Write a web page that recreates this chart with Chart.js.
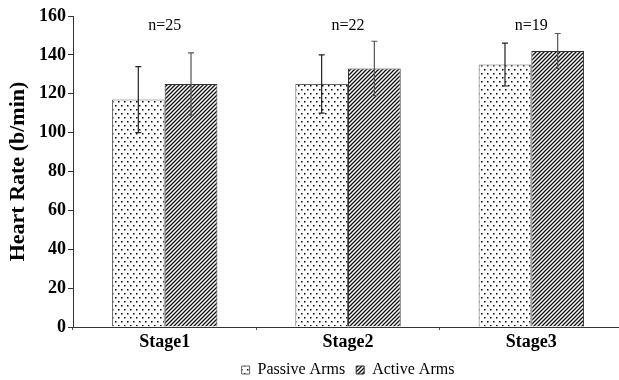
<!DOCTYPE html>
<html>
<head>
<meta charset="utf-8">
<script src="https://cdn.jsdelivr.net/npm/chart.js@4/dist/chart.umd.min.js"></script>
<style>
  html, body { margin: 0; padding: 0; background: #fff; overflow: hidden; }
  #wrap { width: 619px; height: 380px; overflow: hidden; }
</style>
</head>
<body>
<div id="wrap"><canvas id="hr" width="625" height="390"></canvas></div>
<script>
// heart rate by stage, mean +/- sd
const stages = ['Stage1', 'Stage2', 'Stage3'];
const passiveArms = [117, 125, 135];
const activeArms = [125, 133, 142];
const passiveErr = [17, 15, 11];
const activeErr = [16, 14, 9];
const nLabels = ['n=25', 'n=22', 'n=19'];
const yTicks = [0, 20, 40, 60, 80, 100, 120, 140, 160];

const SERIF = "'Liberation Serif', 'Times New Roman', serif";

function dotPattern() {
  const c = document.createElement('canvas');
  c.width = 6; c.height = 8;
  const g = c.getContext('2d');
  g.fillStyle = '#fff';
  g.fillRect(0, 0, 6, 8);
  g.fillStyle = '#000';
  g.fillRect(1, 1, 1.5, 1.5);
  g.fillRect(4, 5, 1.5, 1.5);
  return g.createPattern(c, 'repeat');
}

function hatchPattern() {
  const c = document.createElement('canvas');
  c.width = 4; c.height = 4;
  const g = c.getContext('2d');
  g.fillStyle = '#fff';
  g.fillRect(0, 0, 4, 4);
  g.strokeStyle = '#111';
  g.lineWidth = 1.3;
  g.beginPath();
  g.moveTo(-1, 5); g.lineTo(5, -1);
  g.moveTo(-1, 1); g.lineTo(1, -1);
  g.moveTo(3, 5); g.lineTo(5, 3);
  g.stroke();
  return g.createPattern(c, 'repeat');
}

const errorBars = {
  id: 'errorBars',
  afterDatasetsDraw(chart) {
    const ctx = chart.ctx;
    const y = chart.scales.y;
    const errs = [passiveErr, activeErr];
    const cols = ['#222', '#555'];
    ctx.save();
    chart.data.datasets.forEach((ds, di) => {
      const meta = chart.getDatasetMeta(di);
      meta.data.forEach((bar, i) => {
        const v = ds.data[i];
        const top = y.getPixelForValue(v + errs[di][i]);
        const bot = y.getPixelForValue(v - errs[di][i]);
        ctx.strokeStyle = cols[di];
        ctx.lineWidth = 1.2;
        ctx.beginPath();
        ctx.moveTo(bar.x, top); ctx.lineTo(bar.x, bot);
        ctx.moveTo(bar.x - 3, top); ctx.lineTo(bar.x + 3, top);
        ctx.moveTo(bar.x - 3, bot); ctx.lineTo(bar.x + 3, bot);
        ctx.stroke();
      });
    });
    // n= labels over each stage
    ctx.fillStyle = '#000';
    ctx.font = '16px ' + SERIF;
    ctx.textAlign = 'center';
    ctx.textBaseline = 'middle';
    nLabels.forEach((t, i) => {
      ctx.fillText(t, chart.scales.x.getPixelForValue(i), y.getPixelForValue(155));
    });
    ctx.restore();
  }
};

new Chart(document.getElementById('hr'), {
  type: 'bar',
  data: {
    labels: stages,
    datasets: [
      {
        label: 'Passive Arms',
        data: passiveArms,
        backgroundColor: dotPattern(),
        borderColor: '#666',
        borderWidth: 1,
        categoryPercentage: 0.575,
        barPercentage: 1.0,
      },
      {
        label: 'Active Arms',
        data: activeArms,
        backgroundColor: hatchPattern(),
        borderColor: '#333',
        borderWidth: 1,
        categoryPercentage: 0.575,
        barPercentage: 1.0,
      }
    ]
  },
  options: {
    responsive: false,
    animation: false,
    layout: { padding: { top: 16, left: 0, right: 2, bottom: 2 } },
    plugins: {
      legend: {
        position: 'bottom',
        fullSize: false,
        labels: {
          color: '#000',
          font: { family: SERIF, size: 16 },
          boxWidth: 8,
          boxHeight: 8,
          padding: 11,
        }
      },
      tooltip: { enabled: false },
    },
    scales: {
      x: {
        grid: { display: true, drawOnChartArea: false, tickLength: 3, color: '#555' },
        border: { color: '#333', width: 1 },
        ticks: { color: '#000', font: { family: SERIF, size: 18, weight: 'bold' }, padding: 2 },
        afterFit: s => { s.height = 24; },
      },
      y: {
        min: 0,
        max: 160,
        afterBuildTicks: s => { s.ticks = yTicks.map(v => ({ value: v })); },
        grid: { display: true, drawOnChartArea: false, tickLength: 5, color: '#333' },
        border: { color: '#333', width: 1 },
        ticks: { color: '#000', font: { family: SERIF, size: 18, weight: 'bold' }, padding: 2 },
        title: {
          display: true,
          text: 'Heart Rate (b/min)',
          color: '#000',
          font: { family: SERIF, size: 22, weight: 'bold' },
          padding: { top: 5, bottom: 4 },
        },
        afterFit: s => { s.width = 73; },
      }
    }
  },
  plugins: [errorBars]
});
</script>
</body>
</html>
